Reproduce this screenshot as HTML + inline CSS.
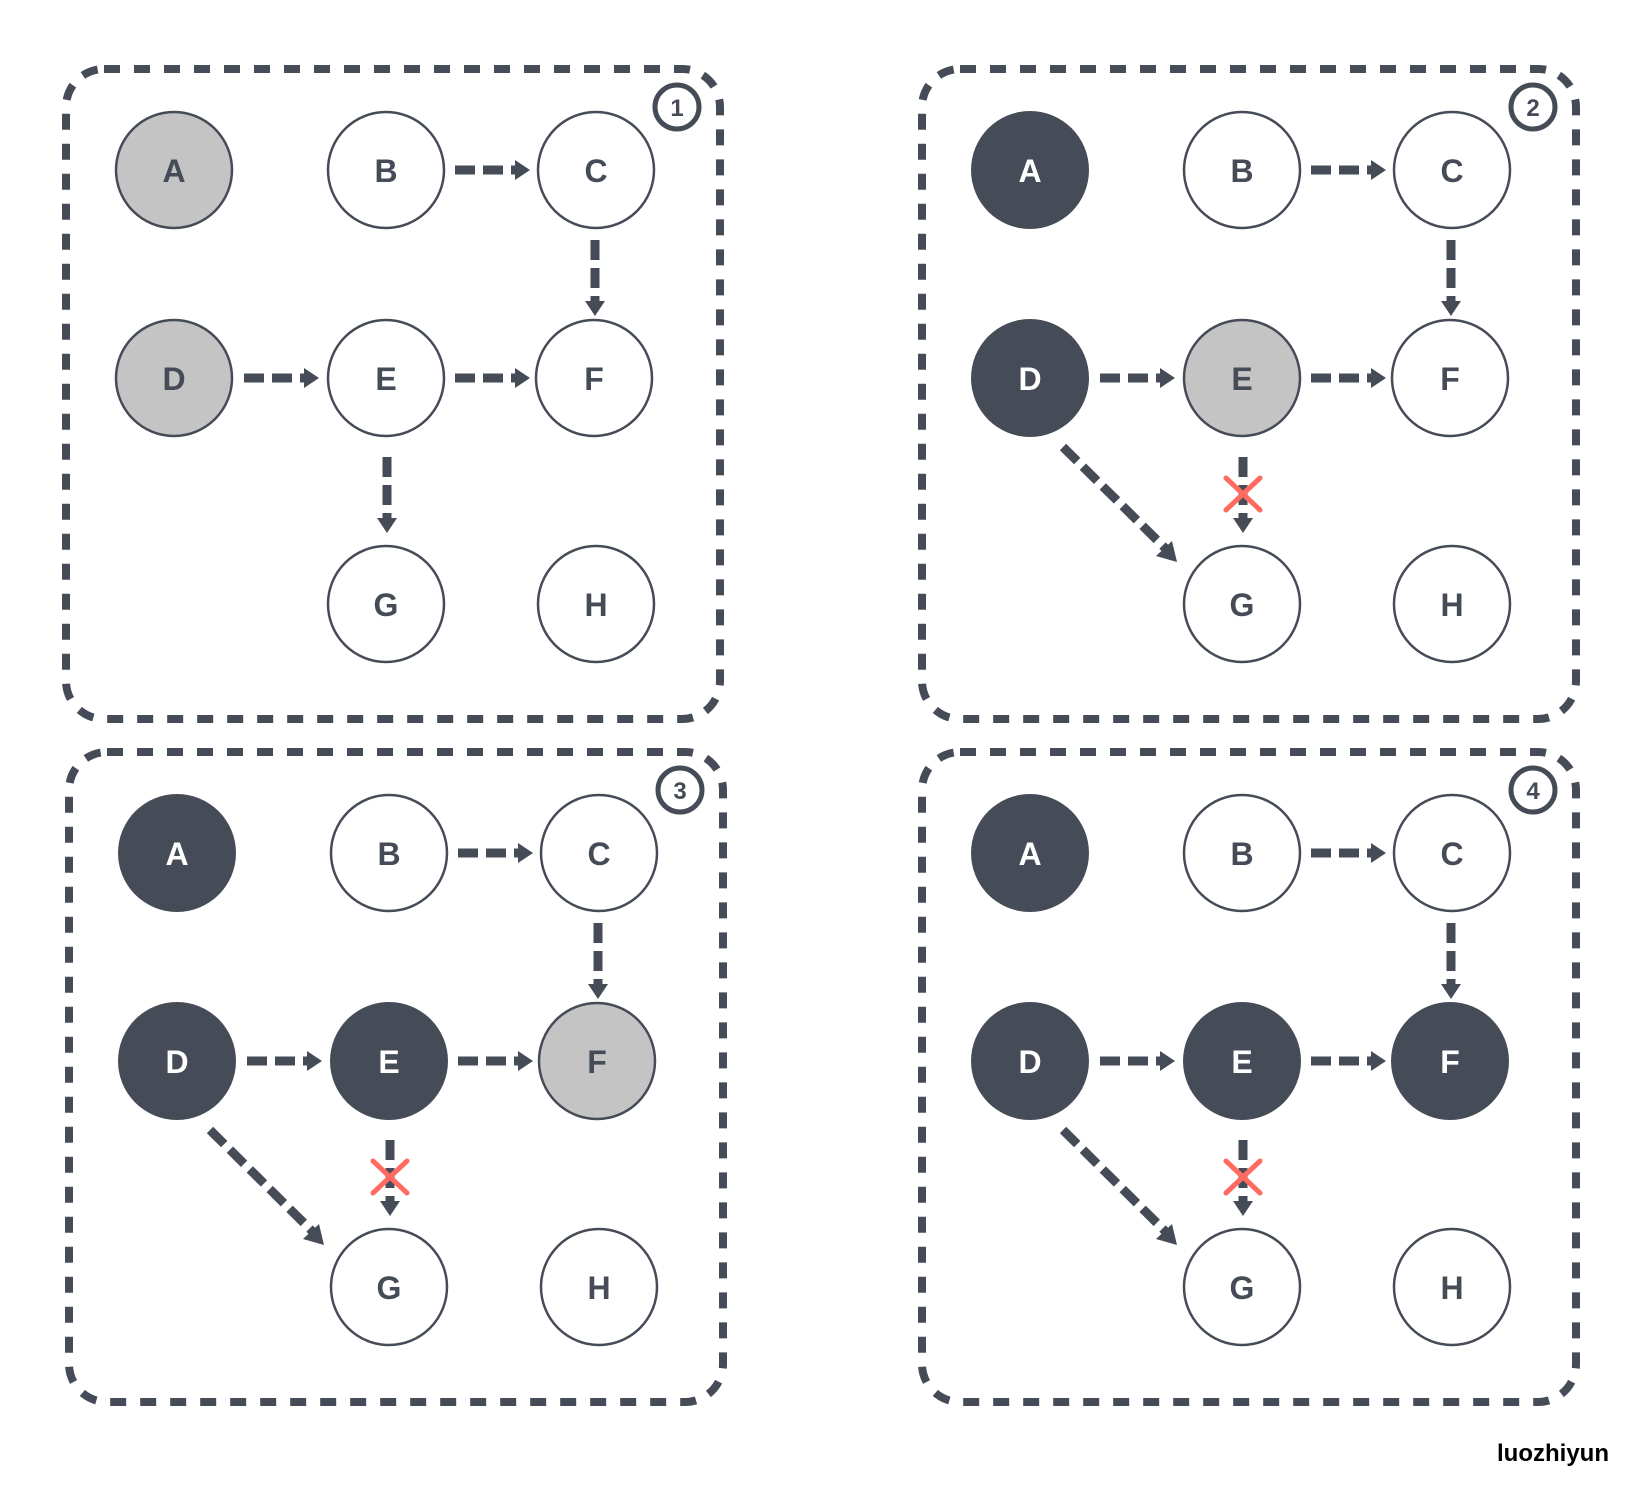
<!DOCTYPE html>
<html><head><meta charset="utf-8"><style>
html,body{margin:0;padding:0;background:#fff;}
svg{display:block;}
text{font-family:"Liberation Sans","DejaVu Sans",sans-serif;font-weight:bold;}
</style></head><body>
<svg width="1638" height="1500" viewBox="0 0 1638 1500" xmlns="http://www.w3.org/2000/svg">
<defs>
<g id="box">
<rect x="66" y="69" width="654" height="650" rx="38" fill="none" stroke="#464c57" stroke-width="8" stroke-dasharray="16 14"/>
</g>
<g id="hBC"><line x1="455" y1="170" x2="515" y2="170" stroke="#464c57" stroke-width="9" stroke-dasharray="20 8"/><polygon points="515,160 530,170 515,180" fill="#464c57"/></g>
<g id="hDE"><line x1="244" y1="378" x2="304" y2="378" stroke="#464c57" stroke-width="9" stroke-dasharray="20 8"/><polygon points="304,368 319,378 304,388" fill="#464c57"/></g>
<g id="hEF"><line x1="455" y1="378" x2="515" y2="378" stroke="#464c57" stroke-width="9" stroke-dasharray="20 8"/><polygon points="515,368 530,378 515,388" fill="#464c57"/></g>
<g id="vCF"><line x1="595" y1="240" x2="595" y2="301" stroke="#464c57" stroke-width="9" stroke-dasharray="20 8"/><polygon points="585,301 595,316 605,301" fill="#464c57"/></g>
<g id="vEG"><line x1="387" y1="457" x2="387" y2="518" stroke="#464c57" stroke-width="9" stroke-dasharray="20 8"/><polygon points="377,518 387,533 397,518" fill="#464c57"/></g>
<g id="diag"><line x1="207" y1="447" x2="310" y2="549" stroke="#464c57" stroke-width="9" stroke-dasharray="20 8"/><polygon points="300,556 321,562 316,541" fill="#464c57"/></g>
<g id="xmark"><line x1="370" y1="478" x2="404" y2="510" stroke="#ff6b61" stroke-width="5" stroke-linecap="round"/><line x1="404" y1="478" x2="370" y2="510" stroke="#ff6b61" stroke-width="5" stroke-linecap="round"/></g>
</defs>

<!-- Panel 1 -->
<g transform="translate(0,0)">
<use href="#box"/>
<circle cx="677" cy="107" r="22" fill="#fff" stroke="#464c57" stroke-width="5"/><text x="677" y="116" font-size="24" text-anchor="middle" fill="#464c57">1</text>
<use href="#hBC"/><use href="#hDE"/><use href="#hEF"/><use href="#vCF"/><use href="#vEG"/>
<circle cx="174" cy="170" r="58" fill="#c4c4c4" stroke="#464c57" stroke-width="2.5"/><text x="174" y="182" font-size="32" text-anchor="middle" fill="#464c57">A</text>
<circle cx="386" cy="170" r="58" fill="#fff" stroke="#464c57" stroke-width="2.5"/><text x="386" y="182" font-size="32" text-anchor="middle" fill="#464c57">B</text>
<circle cx="596" cy="170" r="58" fill="#fff" stroke="#464c57" stroke-width="2.5"/><text x="596" y="182" font-size="32" text-anchor="middle" fill="#464c57">C</text>
<circle cx="174" cy="378" r="58" fill="#c4c4c4" stroke="#464c57" stroke-width="2.5"/><text x="174" y="390" font-size="32" text-anchor="middle" fill="#464c57">D</text>
<circle cx="386" cy="378" r="58" fill="#fff" stroke="#464c57" stroke-width="2.5"/><text x="386" y="390" font-size="32" text-anchor="middle" fill="#464c57">E</text>
<circle cx="594" cy="378" r="58" fill="#fff" stroke="#464c57" stroke-width="2.5"/><text x="594" y="390" font-size="32" text-anchor="middle" fill="#464c57">F</text>
<circle cx="386" cy="604" r="58" fill="#fff" stroke="#464c57" stroke-width="2.5"/><text x="386" y="616" font-size="32" text-anchor="middle" fill="#464c57">G</text>
<circle cx="596" cy="604" r="58" fill="#fff" stroke="#464c57" stroke-width="2.5"/><text x="596" y="616" font-size="32" text-anchor="middle" fill="#464c57">H</text>
</g>

<!-- Panel 2 -->
<g transform="translate(856,0)">
<use href="#box"/>
<circle cx="677" cy="107" r="22" fill="#fff" stroke="#464c57" stroke-width="5"/><text x="677" y="116" font-size="24" text-anchor="middle" fill="#464c57">2</text>
<use href="#hBC"/><use href="#hDE"/><use href="#hEF"/><use href="#vCF"/><use href="#vEG"/><use href="#diag"/><use href="#xmark"/>
<circle cx="174" cy="170" r="59" fill="#464c57"/><text x="174" y="182" font-size="32" text-anchor="middle" fill="#fff">A</text>
<circle cx="386" cy="170" r="58" fill="#fff" stroke="#464c57" stroke-width="2.5"/><text x="386" y="182" font-size="32" text-anchor="middle" fill="#464c57">B</text>
<circle cx="596" cy="170" r="58" fill="#fff" stroke="#464c57" stroke-width="2.5"/><text x="596" y="182" font-size="32" text-anchor="middle" fill="#464c57">C</text>
<circle cx="174" cy="378" r="59" fill="#464c57"/><text x="174" y="390" font-size="32" text-anchor="middle" fill="#fff">D</text>
<circle cx="386" cy="378" r="58" fill="#c4c4c4" stroke="#464c57" stroke-width="2.5"/><text x="386" y="390" font-size="32" text-anchor="middle" fill="#464c57">E</text>
<circle cx="594" cy="378" r="58" fill="#fff" stroke="#464c57" stroke-width="2.5"/><text x="594" y="390" font-size="32" text-anchor="middle" fill="#464c57">F</text>
<circle cx="386" cy="604" r="58" fill="#fff" stroke="#464c57" stroke-width="2.5"/><text x="386" y="616" font-size="32" text-anchor="middle" fill="#464c57">G</text>
<circle cx="596" cy="604" r="58" fill="#fff" stroke="#464c57" stroke-width="2.5"/><text x="596" y="616" font-size="32" text-anchor="middle" fill="#464c57">H</text>
</g>

<!-- Panel 3 -->
<g transform="translate(3,683)">
<use href="#box"/>
<circle cx="677" cy="107" r="22" fill="#fff" stroke="#464c57" stroke-width="5"/><text x="677" y="116" font-size="24" text-anchor="middle" fill="#464c57">3</text>
<use href="#hBC"/><use href="#hDE"/><use href="#hEF"/><use href="#vCF"/><use href="#vEG"/><use href="#diag"/><use href="#xmark"/>
<circle cx="174" cy="170" r="59" fill="#464c57"/><text x="174" y="182" font-size="32" text-anchor="middle" fill="#fff">A</text>
<circle cx="386" cy="170" r="58" fill="#fff" stroke="#464c57" stroke-width="2.5"/><text x="386" y="182" font-size="32" text-anchor="middle" fill="#464c57">B</text>
<circle cx="596" cy="170" r="58" fill="#fff" stroke="#464c57" stroke-width="2.5"/><text x="596" y="182" font-size="32" text-anchor="middle" fill="#464c57">C</text>
<circle cx="174" cy="378" r="59" fill="#464c57"/><text x="174" y="390" font-size="32" text-anchor="middle" fill="#fff">D</text>
<circle cx="386" cy="378" r="59" fill="#464c57"/><text x="386" y="390" font-size="32" text-anchor="middle" fill="#fff">E</text>
<circle cx="594" cy="378" r="58" fill="#c4c4c4" stroke="#464c57" stroke-width="2.5"/><text x="594" y="390" font-size="32" text-anchor="middle" fill="#464c57">F</text>
<circle cx="386" cy="604" r="58" fill="#fff" stroke="#464c57" stroke-width="2.5"/><text x="386" y="616" font-size="32" text-anchor="middle" fill="#464c57">G</text>
<circle cx="596" cy="604" r="58" fill="#fff" stroke="#464c57" stroke-width="2.5"/><text x="596" y="616" font-size="32" text-anchor="middle" fill="#464c57">H</text>
</g>

<!-- Panel 4 -->
<g transform="translate(856,683)">
<use href="#box"/>
<circle cx="677" cy="107" r="22" fill="#fff" stroke="#464c57" stroke-width="5"/><text x="677" y="116" font-size="24" text-anchor="middle" fill="#464c57">4</text>
<use href="#hBC"/><use href="#hDE"/><use href="#hEF"/><use href="#vCF"/><use href="#vEG"/><use href="#diag"/><use href="#xmark"/>
<circle cx="174" cy="170" r="59" fill="#464c57"/><text x="174" y="182" font-size="32" text-anchor="middle" fill="#fff">A</text>
<circle cx="386" cy="170" r="58" fill="#fff" stroke="#464c57" stroke-width="2.5"/><text x="386" y="182" font-size="32" text-anchor="middle" fill="#464c57">B</text>
<circle cx="596" cy="170" r="58" fill="#fff" stroke="#464c57" stroke-width="2.5"/><text x="596" y="182" font-size="32" text-anchor="middle" fill="#464c57">C</text>
<circle cx="174" cy="378" r="59" fill="#464c57"/><text x="174" y="390" font-size="32" text-anchor="middle" fill="#fff">D</text>
<circle cx="386" cy="378" r="59" fill="#464c57"/><text x="386" y="390" font-size="32" text-anchor="middle" fill="#fff">E</text>
<circle cx="594" cy="378" r="59" fill="#464c57"/><text x="594" y="390" font-size="32" text-anchor="middle" fill="#fff">F</text>
<circle cx="386" cy="604" r="58" fill="#fff" stroke="#464c57" stroke-width="2.5"/><text x="386" y="616" font-size="32" text-anchor="middle" fill="#464c57">G</text>
<circle cx="596" cy="604" r="58" fill="#fff" stroke="#464c57" stroke-width="2.5"/><text x="596" y="616" font-size="32" text-anchor="middle" fill="#464c57">H</text>
</g>

<text x="1553" y="1461" font-size="24" text-anchor="middle" fill="#000">luozhiyun</text>
</svg>
</body></html>
